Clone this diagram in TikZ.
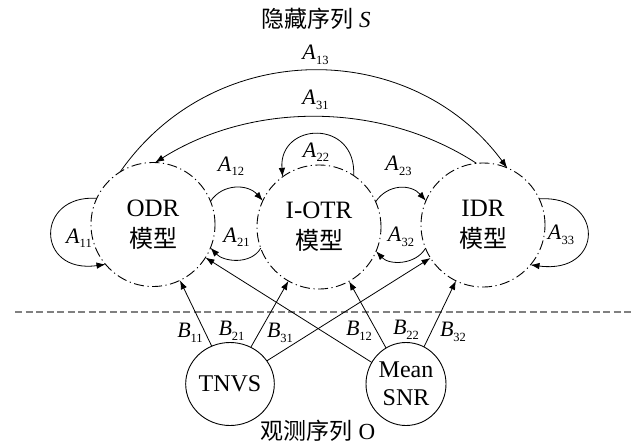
\documentclass[tikz,border=0pt]{standalone}
\usepackage{fontspec}
\setmainfont{Liberation Serif}
\newfontfamily\cjk{Noto Sans CJK SC}
\usetikzlibrary{arrows.meta,shapes.geometric}
\newcommand\subl[2]{\textit{#1}\raisebox{-4.5pt}{\fontsize{12.5}{12.5}\selectfont #2}}
\begin{document}
\begin{tikzpicture}[x=1pt,y=-1pt,
  state/.style={circle, draw, minimum size=124pt, inner sep=0pt, outer sep=0pt,
    line width=0.9pt, dash pattern=on 10pt off 3.5pt on 1.2pt off 3.5pt,
    align=center, font=\fontsize{25}{31}\selectfont},
  obs/.style={ellipse, draw, minimum width=80pt, minimum height=83pt, inner sep=0pt,
    outer sep=0pt, line width=0.9pt, align=center, font=\fontsize{24}{28.4}\selectfont},
  arr/.style={-{Latex[length=9pt,width=6.5pt]}, line width=0.8pt},
  lab/.style={inner sep=0pt, font=\fontsize{22}{22}\selectfont},
  ttl/.style={inner sep=0pt, font=\fontsize{23}{23}\selectfont},
  sepline/.style={draw=black!50, line width=1.3pt, dash pattern=on 7pt off 3.5pt}
]
\useasboundingbox (0,0) rectangle (632,447);

% titles
\node[ttl] (title) at (316,19) {{\cjk 隐藏序列} \textit{S}};
\node[ttl] (obstitle) at (318,431) {{\cjk 观测序列} O};

% hidden states
\node[state] (ODR) at (153,224.5) {ODR\\{\cjk\fontsize{24}{31}\selectfont 模型}};
\node[state] (IOTR) at (319,227) {I-OTR\\{\cjk\fontsize{24}{31}\selectfont 模型}};
\node[state] (IDR) at (483,225) {IDR\\{\cjk\fontsize{24}{31}\selectfont 模型}};

% observations
\node[obs] (TNVS) at (230,384) {TNVS};
\node[obs] (SNR) at (406,384) {Mean\\SNR};

% separator
\coordinate (dl) at (15,312);
\coordinate (dr) at (632,312);
\draw[sepline] (dl) -- (dr);

% transitions
\draw[arr] (ODR.122) .. controls +(95,-136) and +(-95,-129) .. (IDR.67);
\draw[arr] (IDR.96) .. controls +(-97,-63) and +(95,-60) .. (ODR.88);
\draw[arr] (IOTR.56) .. controls +(3,-57) and +(-4,-55) .. (IOTR.126);
\draw[arr] (ODR.22) .. controls +(12,-18) and +(-15,-17) .. (IOTR.155);
\draw[arr] (IOTR.200) .. controls +(-10,17) and +(13,14) .. (ODR.338);
\draw[arr] (IOTR.24) .. controls +(12,-18) and +(-15,-17) .. (IDR.157);
\draw[arr] (IDR.202) .. controls +(-10,17) and +(13,14) .. (IOTR.337);
\draw[arr] (ODR.155) .. controls +(-62,-4) and +(-70,10) .. (ODR.220);
\draw[arr] (IDR.25) .. controls +(66,-4) and +(74,10) .. (IDR.320);

% emissions
\draw[arr] (TNVS) -- (ODR);
\draw[arr] (TNVS) -- (IOTR);
\draw[arr] (TNVS) -- (IDR);
\draw[arr] (SNR) -- (ODR);
\draw[arr] (SNR) -- (IOTR);
\draw[arr] (SNR) -- (IDR);

% labels
\node[lab] (a13) at (315.5,55) {\subl{A}{13}};
\node[lab] (a31) at (315.5,100) {\subl{A}{31}};
\node[lab] (a22) at (316,152) {\subl{A}{22}};
\node[lab] (a12) at (231,166) {\subl{A}{12}};
\node[lab] (a21) at (236.5,237) {\subl{A}{21}};
\node[lab] (a23) at (398.5,166) {\subl{A}{23}};
\node[lab] (a32) at (401,237) {\subl{A}{32}};
\node[lab] (a11) at (79,238) {\subl{A}{11}};
\node[lab] (a33) at (561,235) {\subl{A}{33}};
\node[lab] (b11) at (190,333) {\subl{B}{11}};
\node[lab] (b21) at (231.5,331) {\subl{B}{21}};
\node[lab] (b31) at (280,333) {\subl{B}{31}};
\node[lab] (b12) at (359,331) {\subl{B}{12}};
\node[lab] (b22) at (406,330) {\subl{B}{22}};
\node[lab] (b32) at (453,332) {\subl{B}{32}};
\end{tikzpicture}
\end{document}
